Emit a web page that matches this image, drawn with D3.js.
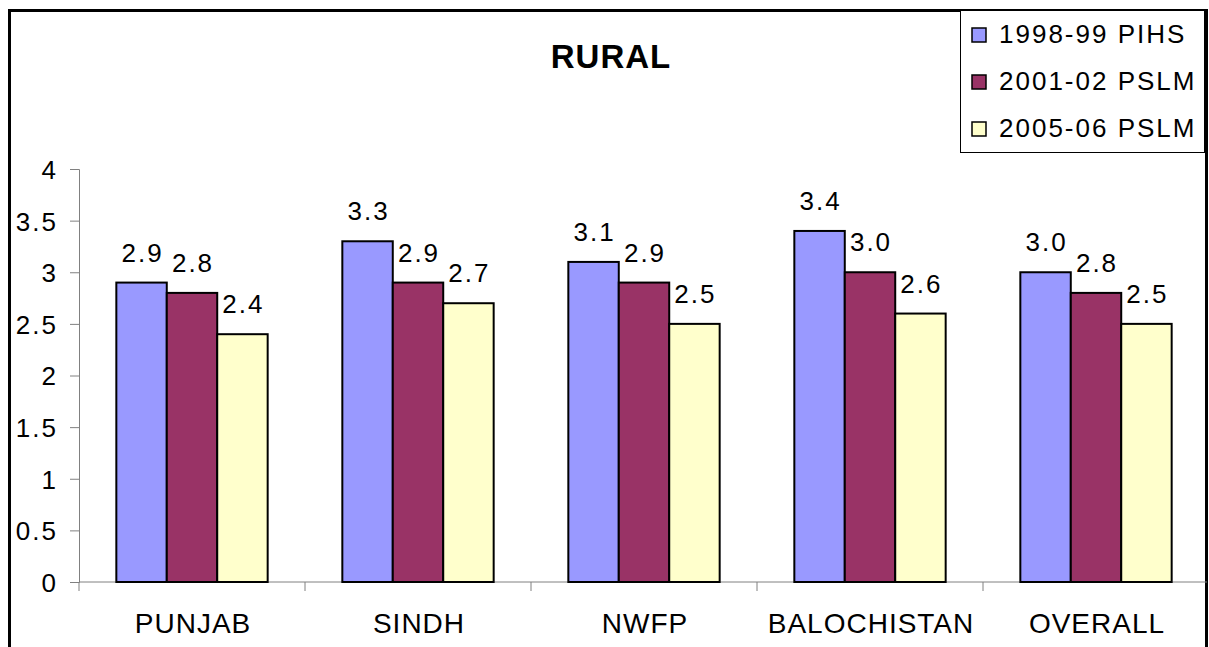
<!DOCTYPE html>
<html>
<head>
<meta charset="utf-8">
<script src="https://cdn.jsdelivr.net/npm/d3@7"></script>
<style>
  body { margin: 0; background: #fff; }
  svg text { font-family: "Liberation Sans", Arial, sans-serif; fill: #000; }
</style>
</head>
<body>
<div id="chart"></div>
<script>
// chart data
const categories = ["PUNJAB", "SINDH", "NWFP", "BALOCHISTAN", "OVERALL"];
const seriesNames = ["1998-99 PIHS", "2001-02 PSLM", "2005-06 PSLM"];
const pihs9899 = [2.9, 3.3, 3.1, 3.4, 3.0];
const pslm0102 = [2.8, 2.9, 2.9, 3.0, 2.8];
const pslm0506 = [2.4, 2.7, 2.5, 2.6, 2.5];
const yTicks = [0, 0.5, 1, 1.5, 2, 2.5, 3, 3.5, 4];
const colors = ["#9999FF", "#993366", "#FFFFCC"];

const W = 1209, H = 647;
const plot = { left: 79, right: 1209, top: 169, bottom: 582 };
const fontSize = "26px", spacing = "2px";

const svg = d3.select("#chart").append("svg")
    .attr("width", W)
    .attr("height", H);

// 外框
svg.append("rect")
    .attr("x", 9.5).attr("y", 10.5)
    .attr("width", 1197).attr("height", 700)
    .attr("fill", "#fff")
    .attr("stroke", "#000")
    .attr("stroke-width", 3);

const x0 = d3.scaleBand().domain(categories).range([plot.left, plot.right]);
const x1 = d3.scaleBand().domain(seriesNames).range([0, x0.bandwidth()]).paddingOuter(0.74);
const y = d3.scaleLinear().domain([0, 4]).range([plot.bottom, plot.top]);

const seriesValues = [pihs9899, pslm0102, pslm0506];
const rows = [];
categories.forEach((c, i) => {
    seriesNames.forEach((s, j) => {
        rows.push({ cat: c, series: s, idx: j, value: seriesValues[j][i] });
    });
});

// y axis
const yAxis = svg.append("g")
    .attr("transform", `translate(${plot.left},0)`)
    .call(d3.axisLeft(y).tickValues(yTicks).tickSize(9).tickPadding(12).tickFormat(d3.format("")));
yAxis.select(".domain").attr("stroke", "#808080");
yAxis.selectAll(".tick line").attr("stroke", "#808080");
yAxis.selectAll("text")
    .style("font-size", fontSize)
    .style("letter-spacing", spacing)
    .attr("dy", "0.36em");

// x axis line with tick marks between categories
const xg = svg.append("g");
xg.append("line")
    .attr("x1", plot.left).attr("x2", 1207)
    .attr("y1", plot.bottom).attr("y2", plot.bottom)
    .attr("stroke", "#808080");
xg.selectAll("line.tk")
    .data(categories)
    .enter().append("line")
    .attr("class", "tk")
    .attr("x1", d => x0(d)).attr("x2", d => x0(d))
    .attr("y1", plot.bottom).attr("y2", plot.bottom + 9)
    .attr("stroke", "#808080");
xg.selectAll("text")
    .data(categories)
    .enter().append("text")
    .attr("x", d => x0(d) + x0.bandwidth() / 2 + 1)
    .attr("y", 633)
    .attr("text-anchor", "middle")
    .style("font-size", "28px")
    .style("letter-spacing", "1px")
    .text(d => d);

// bars
svg.append("g").selectAll("rect")
    .data(rows)
    .enter().append("rect")
    .attr("x", d => x0(d.cat) + x1(d.series))
    .attr("y", d => y(d.value))
    .attr("width", x1.bandwidth())
    .attr("height", d => y(0) - y(d.value))
    .attr("fill", d => colors[d.idx])
    .attr("stroke", "#000")
    .attr("stroke-width", 2);

// value labels
svg.append("g").selectAll("text")
    .data(rows)
    .enter().append("text")
    .attr("x", d => x0(d.cat) + x1(d.series) + x1.bandwidth() / 2 + 1)
    .attr("y", d => y(d.value) - 21)
    .attr("text-anchor", "middle")
    .style("font-size", fontSize)
    .style("letter-spacing", spacing)
    .text(d => d.value.toFixed(1));

// title
svg.append("text")
    .attr("x", 611).attr("y", 68)
    .attr("text-anchor", "middle")
    .style("font-size", "33px")
    .style("font-weight", "bold")
    .style("letter-spacing", "1px")
    .text("RURAL");

// legend
const legend = svg.append("g");
legend.append("rect")
    .attr("x", 960.5).attr("y", 10.5)
    .attr("width", 244).attr("height", 142)
    .attr("fill", "#fff")
    .attr("stroke", "#000")
    .attr("stroke-width", 1);
const items = legend.selectAll("g.item")
    .data(seriesNames)
    .enter().append("g")
    .attr("class", "item")
    .attr("transform", (d, i) => `translate(0,${i * 47})`);
items.append("rect")
    .attr("x", 972).attr("y", 28)
    .attr("width", 14).attr("height", 14)
    .attr("fill", (d, i) => colors[i])
    .attr("stroke", "#000")
    .attr("stroke-width", 1.5);
items.append("text")
    .attr("x", 999).attr("y", 43)
    .style("font-size", fontSize)
    .style("letter-spacing", spacing)
    .text(d => d);
</script>
</body>
</html>
